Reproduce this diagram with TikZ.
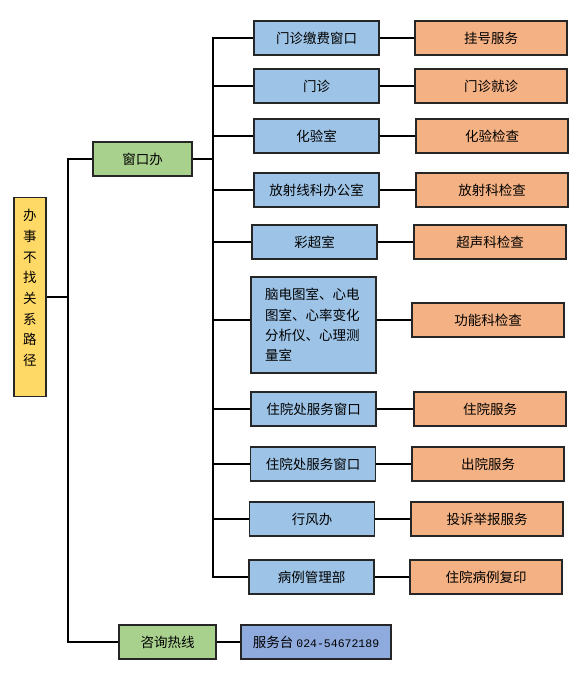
\documentclass[tikz,border=0pt]{standalone}
\usepackage{fontspec}
\setmainfont{Noto Sans CJK SC}
\newfontfamily\digitfont{Liberation Mono}
\definecolor{boxline}{HTML}{262626}
\definecolor{rootyellow}{HTML}{FFD966}
\definecolor{officegreen}{HTML}{A9D18E}
\definecolor{deptblue}{HTML}{9DC3E6}
\definecolor{servorange}{HTML}{F4B183}
\definecolor{deskblue}{HTML}{8FAADC}
\begin{document}
\begin{tikzpicture}[x=1pt,y=-1pt,
  box/.style={draw=boxline, line width=1.4pt, inner sep=0pt, minimum height=34pt, font=\fontsize{13.5}{17}\selectfont},
  dept/.style={box, fill=deptblue, minimum width=125pt},
  serv/.style={box, fill=servorange, minimum width=152pt},
  link/.style={line width=2pt}]
\useasboundingbox (0,0) rectangle (579,675);
\node[box, fill=rootyellow, minimum width=32pt, minimum height=199pt] (root) at (30,297){};
\node[align=center, inner sep=0pt, font=\fontsize{13.5}{20.7}\selectfont] (roottext) at (30,288){办\\事\\不\\找\\关\\系\\路\\径};
\node[box, fill=officegreen, minimum width=99pt] (win) at (142.5,159){窗口办};
\node[box, fill=officegreen, minimum width=97pt] (hot) at (167.5,642){咨询热线};
\node[box, fill=deskblue, minimum width=150pt] (desk) at (316,642){服务台 {\digitfont\fontsize{11.5}{17}\selectfont 024-54672189}};
\coordinate (rb) at (68,297);
\coordinate (wb) at (213,159);
\draw[link](root) -- (rb);
\draw[link](rb) |- (win);
\draw[link](rb) |- (hot);
\draw[link](hot) -- (desk);
\draw[link](win) -- (wb);
\node[dept] (d1) at (316.5,38){门诊缴费窗口};
\node[serv] (s1) at (491,38){挂号服务};
\node[dept] (d2) at (316.5,86){门诊};
\node[serv] (s2) at (491,86){门诊就诊};
\node[dept] (d3) at (316.5,136){化验室};
\node[serv] (s3) at (492,136){化验检查};
\node[dept] (d4) at (316.5,190){放射线科办公室};
\node[serv] (s4) at (492,190){放射科检查};
\node[dept] (d5) at (314.5,242){彩超室};
\node[serv] (s5) at (490,242){超声科检查};
\node[dept, minimum height=96pt, text width=97pt, align=left, font=\fontsize{13.5}{20.3}\selectfont] (d6) at (313.5,325){脑电图室、心电\\图室、心率变化\\分析仪、心理测\\量室};
\node[serv] (s6) at (488,320){功能科检查};
\node[dept] (d7) at (313.5,409){住院处服务窗口};
\node[serv] (s7) at (490,409){住院服务};
\node[dept] (d8) at (313,464){住院处服务窗口};
\node[serv] (s8) at (488,464){出院服务};
\node[dept] (d9) at (312,519){行风办};
\node[serv] (s9) at (487,519){投诉举报服务};
\node[dept] (d10) at (311.5,577){病例管理部};
\node[serv] (s10) at (486,577){住院病例复印};
\draw[link](wb) |- (d1);
\draw[link](wb) |- (d2);
\draw[link](wb) |- (d3);
\draw[link](wb) |- (d4);
\draw[link](wb) |- (d5);
\draw[link](wb) |- (d6.west |- s6);
\draw[link](wb) |- (d7);
\draw[link](wb) |- (d8);
\draw[link](wb) |- (d9);
\draw[link](wb) |- (d10);
\draw[link](d1) -- (s1);
\draw[link](d2) -- (s2);
\draw[link](d3) -- (s3);
\draw[link](d4) -- (s4);
\draw[link](d5) -- (s5);
\draw[link](d6.east |- s6) -- (s6);
\draw[link](d7) -- (s7);
\draw[link](d8) -- (s8);
\draw[link](d9) -- (s9);
\draw[link](d10) -- (s10);
\end{tikzpicture}
\end{document}
